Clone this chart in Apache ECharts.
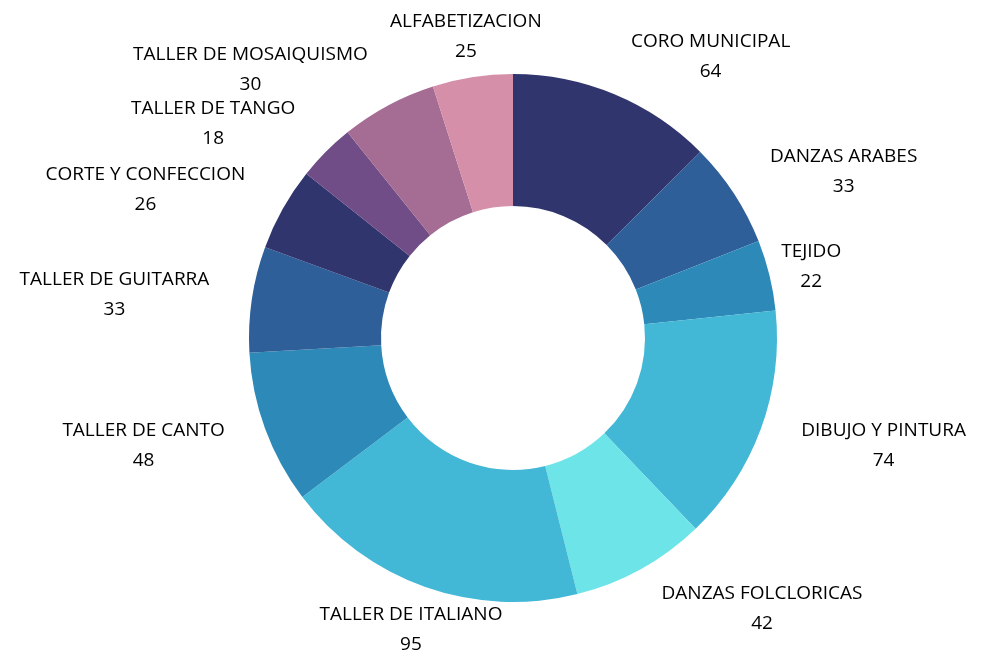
<!DOCTYPE html>
<html>
<head>
<meta charset="utf-8">
<script src="https://cdn.jsdelivr.net/npm/echarts@6/dist/echarts.min.js"></script>
<style>
    html, body { margin: 0; padding: 0; background: #fff; }
    #main { width: 987px; height: 651px; }
</style>
</head>
<body>
<div id="main"></div>
<script>
// talleres y cantidad de inscriptos
var talleres = ["CORO MUNICIPAL", "DANZAS ARABES", "TEJIDO", "DIBUJO Y PINTURA", "DANZAS FOLCLORICAS",
    "TALLER DE ITALIANO", "TALLER DE CANTO", "TALLER DE GUITARRA", "CORTE Y CONFECCION",
    "TALLER DE TANGO", "TALLER DE MOSAIQUISMO", "ALFABETIZACION"];
var inscriptos = [64, 33, 22, 74, 42, 95, 48, 33, 26, 18, 30, 25];
var colores = ["#31356e", "#2e5f99", "#2d8ab8", "#42b7d6", "#6ce4e8", "#42b7d6",
    "#2d8ab8", "#2e5f99", "#31356e", "#704d86", "#a56c94", "#d58fa8"];

// estos rotulos quedan centrados sobre el punto, no pegados por el borde
var centrados = ["TEJIDO", "TALLER DE ITALIANO", "ALFABETIZACION"];

var chart = echarts.init(document.getElementById("main"));

var datos = [];
for (var i = 0; i < talleres.length; i++) {
    datos.push({ name: talleres[i], value: inscriptos[i], itemStyle: { color: colores[i] } });
}

var fuente = "'Open Sans', 'Noto Sans', sans-serif";

chart.setOption({
    animation: false,
    series: [{
        type: "pie",
        center: [513, 338],
        radius: [132, 264],
        startAngle: 90,
        clockwise: true,
        avoidLabelOverlap: false,
        data: datos,
        itemStyle: { borderWidth: 0 },
        label: {
            show: true,
            position: "outside",
            distanceToLabelLine: 0,
            formatter: "{n|{b}}\n{v|{c}}",
            rich: {
                n: { fontFamily: fuente, fontSize: 19, color: "#000", align: "center", lineHeight: 30 },
                v: { fontFamily: fuente, fontSize: 19, color: "#000", align: "center", lineHeight: 30 }
            }
        },
        labelLine: { show: false, length: 43, length2: 0 },
        labelLayout: function (params) {
            var cfg = { dy: 2 };
            if (centrados.indexOf(talleres[params.dataIndex]) >= 0) {
                cfg.align = "center";
            }
            return cfg;
        },
        emphasis: { disabled: true }
    }]
});
</script>
</body>
</html>
